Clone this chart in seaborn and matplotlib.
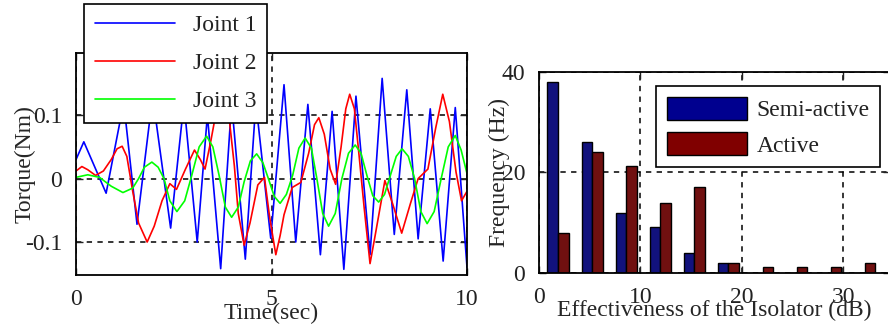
import pandas as pd
import matplotlib
matplotlib.use('Agg')
import matplotlib.pyplot as plt
import seaborn as sns
from matplotlib.patches import Patch
from matplotlib.lines import Line2D

# joint torques (time in sec, torque in Nm)
t_joint1 = [0.0, 0.2, 0.77, 1.22, 1.56, 1.96, 2.42, 2.76, 3.10, 3.36, 3.70, 3.98, 4.33, 4.60,
            4.98, 5.32, 5.62, 5.93, 6.25, 6.55, 6.85, 7.16, 7.52, 7.83, 8.14, 8.46, 8.75,
            9.06, 9.39, 9.70, 10.0]
y_joint1 = [0.03, 0.058, -0.023, 0.12, -0.072, 0.13, -0.078, 0.12, -0.10, 0.10, -0.142, 0.12,
            -0.127, 0.12, -0.094, 0.148, -0.10, 0.117, -0.12, 0.106, -0.143, 0.13, -0.12,
            0.158, -0.088, 0.14, -0.095, 0.11, -0.13, 0.112, -0.14]

t_joint2 = [0.0, 0.15, 0.3, 0.5, 0.7, 0.9, 1.05, 1.18, 1.3, 1.45, 1.6, 1.82, 2.0, 2.2, 2.4,
            2.57, 2.8, 3.03, 3.18, 3.3, 3.45, 3.6, 3.75, 3.9, 4.05, 4.15, 4.3, 4.45, 4.65,
            4.82, 4.95, 5.11, 5.22, 5.32, 5.53, 5.75, 5.95, 6.1, 6.21, 6.35, 6.5, 6.64, 6.78,
            6.9, 7.0, 7.12, 7.25, 7.37, 7.52, 7.65, 7.9, 8.1, 8.33, 8.55, 8.75, 9.0, 9.2,
            9.38, 9.55, 9.72, 9.86, 10.0]
y_joint2 = [0.012, 0.019, 0.014, 0.005, 0.012, 0.03, 0.047, 0.051, 0.035, -0.02, -0.07, -0.10,
            -0.075, -0.035, -0.008, -0.017, 0.015, 0.045, 0.03, 0.015, 0.06, 0.11, 0.13, 0.105,
            0.02, -0.055, -0.105, -0.07, -0.01, 0.002, -0.06, -0.12, -0.09, -0.057, -0.014,
            -0.006, 0.04, 0.085, 0.096, 0.07, 0.015, -0.009, 0.05, 0.11, 0.133, 0.11, 0.03,
            -0.046, -0.134, -0.09, -0.003, -0.04, -0.086, -0.04, 0.0, 0.015, 0.08, 0.133, 0.09,
            0.01, -0.035, -0.02]

t_joint3 = [0.0, 0.3, 0.6, 0.9, 1.2, 1.45, 1.6, 1.75, 1.94, 2.1, 2.25, 2.4, 2.58, 2.78, 2.96,
            3.15, 3.34, 3.5, 3.66, 3.82, 3.98, 4.15, 4.3, 4.46, 4.62, 4.78, 4.92, 5.07, 5.22,
            5.38, 5.54, 5.7, 5.86, 6.02, 6.16, 6.31, 6.46, 6.63, 6.8, 6.97, 7.14, 7.29, 7.44,
            7.59, 7.74, 7.89, 8.04, 8.19, 8.34, 8.5, 8.66, 8.82, 8.98, 9.16, 9.34, 9.52, 9.70,
            9.85, 10.0]
y_joint3 = [0.002, 0.006, 0.002, -0.012, -0.022, -0.015, 0.0, 0.018, 0.026, 0.018, 0.0, -0.035,
            -0.052, -0.035, 0.005, 0.05, 0.067, 0.05, 0.005, -0.045, -0.061, -0.045, -0.005,
            0.028, 0.039, 0.025, 0.0, -0.028, -0.039, -0.025, 0.005, 0.048, 0.064, 0.048, 0.0,
            -0.055, -0.075, -0.055, 0.0, 0.04, 0.053, 0.04, 0.005, -0.027, -0.037, -0.025,
            0.005, 0.035, 0.047, 0.035, 0.0, -0.052, -0.071, -0.052, 0.0, 0.05, 0.068, 0.045,
            0.008]

# histogram on the right panel
bin_centers = [1.87, 5.23, 8.59, 11.95, 15.31, 18.67, 22.03, 25.39, 28.75, 32.11]
semi_active = [38, 26, 12, 9.2, 4, 2, 0, 0, 0, 0]
active = [8, 24, 21.2, 14, 17.2, 2, 1.2, 1.2, 1.2, 2]

joint_names = ['Joint 1', 'Joint 2', 'Joint 3']
joint_colors = ['#0000ff', '#ff0000', '#00ff00']
bar_names = ['Semi-active', 'Active']
bar_colors = ['#00008f', '#800000']

sns.set_style('ticks')
plt.rcParams['font.family'] = ['Liberation Serif', 'DejaVu Serif']
plt.rcParams['font.size'] = 17
plt.rcParams['text.color'] = '#222222'
plt.rcParams['xtick.color'] = '#222222'
plt.rcParams['ytick.color'] = '#222222'

torque = pd.concat([
    pd.DataFrame({'time': t_joint1, 'torque': y_joint1, 'joint': 'Joint 1'}),
    pd.DataFrame({'time': t_joint2, 'torque': y_joint2, 'joint': 'Joint 2'}),
    pd.DataFrame({'time': t_joint3, 'torque': y_joint3, 'joint': 'Joint 3'}),
])
hist = pd.concat([
    pd.DataFrame({'center': bin_centers, 'freq': semi_active, 'kind': 'Semi-active'}),
    pd.DataFrame({'center': bin_centers, 'freq': active, 'kind': 'Active'}),
])

fig = plt.figure(figsize=(8.88, 3.26), dpi=100)
ax1 = fig.add_axes([0.0856, 0.1564, 0.4403, 0.681])
ax2 = fig.add_axes([0.607, 0.1626, 0.3953, 0.6166])

grid_kw = dict(color='black', linestyle=(0, (3.5, 3.5)), linewidth=1.1)

# left: torque time series
sns.lineplot(data=torque, x='time', y='torque', hue='joint', palette=joint_colors,
             estimator=None, sort=False, linewidth=1.2, legend=False, ax=ax1)
ax1.set_xlim(0, 10)
ax1.set_ylim(-0.152, 0.198)
ax1.set_xticks([0, 5, 10])
ax1.set_yticks([-0.1, 0, 0.1])
ax1.set_yticklabels(['-0.1', '0', '0.1'])
ax1.grid(True, **grid_kw)
ax1.set_axisbelow(True)
ax1.set_xlabel('Time(sec)', labelpad=-5)
ax1.set_ylabel('Torque(Nm)', labelpad=-8)

handles1 = [Line2D([], [], color=c, linewidth=1.2) for c in joint_colors]
leg1 = ax1.legend(handles1, joint_names, loc='upper left',
                  bbox_to_anchor=(84 / 888, 1 - 4 / 326), bbox_transform=fig.transFigure,
                  frameon=True, fancybox=False, framealpha=1, edgecolor='black',
                  handlelength=3.4, handletextpad=0.75, labelspacing=0.7,
                  borderpad=0.45, borderaxespad=0)
leg1.get_frame().set_linewidth(1.2)

# right: histogram of isolator effectiveness
sns.barplot(data=hist, x='center', y='freq', hue='kind', palette=bar_colors,
            native_scale=True, width=0.62, errorbar=None, edgecolor='black',
            linewidth=1.0, legend=False, ax=ax2)
ax2.set_xlim(0, 34.6)
ax2.set_ylim(0, 40)
ax2.set_xticks([0, 10, 20, 30])
ax2.set_yticks([0, 20, 40])
ax2.grid(True, **grid_kw)
ax2.set_axisbelow(True)
ax2.set_xlabel('Effectiveness of the Isolator (dB)', labelpad=-6)
ax2.set_ylabel('Frequency (Hz)', labelpad=-6)

handles2 = [Patch(facecolor=c, edgecolor='black', linewidth=1.0) for c in bar_colors]
leg2 = ax2.legend(handles2, bar_names, loc='upper left',
                  bbox_to_anchor=(656 / 888, 1 - 86 / 326), bbox_transform=fig.transFigure,
                  frameon=True, fancybox=False, framealpha=1, edgecolor='black',
                  handlelength=3.4, handleheight=1.15, handletextpad=0.4,
                  labelspacing=0.45, borderpad=0.45, borderaxespad=0)
leg2.get_frame().set_linewidth(1.2)

for ax in (ax1, ax2):
    ax.tick_params(direction='in', length=5, width=1, top=True, right=True, pad=10)
    for s in ax.spines.values():
        s.set_linewidth(1.3)
        s.set_color('black')

fig.savefig('out.png', dpi=100)
